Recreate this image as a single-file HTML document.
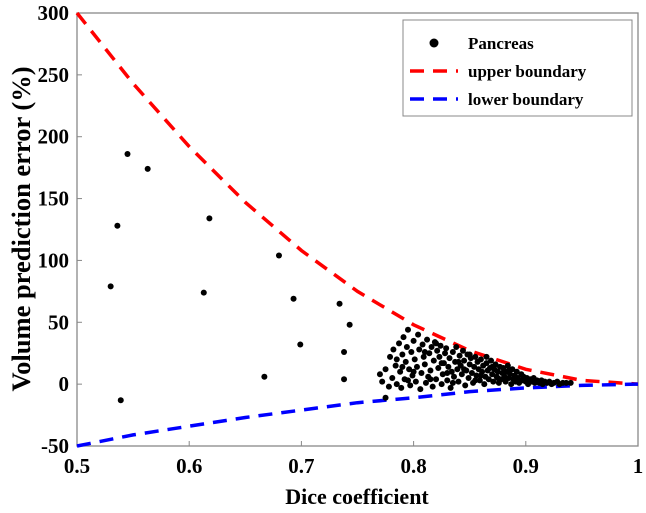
<!DOCTYPE html>
<html><head><meta charset="utf-8"><style>
body{margin:0;background:#fff;}
svg{display:block;font-family:"Liberation Serif",serif;font-weight:bold;}
</style></head><body>
<svg id="chart" width="646" height="513" viewBox="0 0 646 513" xmlns="http://www.w3.org/2000/svg">
<rect x="77" y="13" width="561" height="433" fill="#fff" stroke="#888" stroke-width="1.3"/>
<g id="ticks"></g>
<g id="lines"></g>
<g id="dots"></g>
<text x="357" y="504" text-anchor="middle" font-size="22">Dice coefficient</text>
<text transform="translate(30,229) rotate(-90)" text-anchor="middle" font-size="26.5">Volume prediction error (%)</text>
<g>
<rect x="403" y="20" width="229" height="96" fill="#fff" stroke="#888" stroke-width="1"/>
<g><circle cx="434" cy="43" r="4.5" fill="#000"/><text x="468" y="49" font-size="17">Pancreas</text></g>
<g><line x1="410" y1="71" x2="458" y2="71" stroke="#f00" stroke-width="3.5" stroke-dasharray="14,9"/><text x="468" y="77" font-size="17">upper boundary</text></g>
<g><line x1="410" y1="99" x2="458" y2="99" stroke="#00f" stroke-width="3.5" stroke-dasharray="14,9"/><text x="468" y="105" font-size="17">lower boundary</text></g>
</g>
</svg>
<script>
const xTicks=[0.5,0.6,0.7,0.8,0.9,1];
const xTickLabels=["0.5","0.6","0.7","0.8","0.9","1"];
const yTicks=[-50,0,50,100,150,200,250,300];
const yTickLabels=["-50","0","50","100","150","200","250","300"];
const boundaryDice=[0.5,0.55,0.6,0.65,0.7,0.75,0.8,0.85,0.9,0.95,1.0];
const upperValues=[300,243,192,147,108,75,48,27,12,3,0];
const lowerValues=[-50,-41,-34,-27,-21,-15,-11,-6,-3,-1,0];
const pointDice=[0.545,0.563,0.536,0.530,0.539,0.618,0.613,0.680,0.693,0.699,0.667,0.734,0.743,0.738,0.738,0.775,
0.770,0.772,0.775,0.778,0.779,0.781,0.782,0.784,0.785,0.787,0.788,0.789,0.790,0.791,0.792,0.793,0.794,0.795,0.796,0.797,0.798,0.799,
0.800,0.801,0.802,0.803,0.804,0.805,0.806,0.807,0.808,0.809,0.810,0.811,0.812,0.813,0.814,0.815,0.816,0.817,0.818,0.819,0.820,0.821,0.822,0.823,0.824,0.825,0.826,0.827,0.828,0.829,0.830,0.831,0.832,0.833,0.834,0.835,0.836,0.837,0.838,0.839,
0.840,0.841,0.842,0.843,0.844,0.845,0.846,0.847,0.848,0.849,0.850,0.851,0.852,0.853,0.854,0.855,0.856,0.857,0.858,0.859,0.860,0.861,0.862,0.863,0.864,0.865,0.866,0.867,0.868,0.869,0.870,0.871,0.872,0.873,0.874,0.875,0.876,0.877,0.878,0.879,
0.880,0.881,0.882,0.883,0.884,0.885,0.886,0.887,0.888,0.889,0.890,0.891,0.892,0.893,0.894,0.896,0.897,0.898,0.900,0.901,0.902,0.904,0.905,0.907,0.908,0.910,0.912,0.914,0.915,0.917,0.919,0.921,0.923,0.925,0.928,0.930,0.933,0.936,0.940,
0.785,0.790,0.795,0.800,0.810,0.815,0.820,0.825,0.830,0.835,0.840,0.845,0.850,0.855,0.860,0.865,0.870,0.875,0.880,0.885];
const pointVolume=[186,174,128,79,-13,134,74,104,69,32,6,65,48,26,4,-11,
8,2,12,-2,22,5,28,15,0,33,10,-3,24,38,4,18,30,44,12,-1,26,7,
35,20,2,14,40,28,-4,9,32,22,16,1,36,6,25,11,30,-2,19,34,4,27,13,22,31,0,8,17,25,29,3,14,21,-3,10,26,6,18,30,12,
2,23,15,8,27,19,-1,11,24,5,16,21,9,1,14,22,7,18,12,3,20,10,15,0,6,17,11,4,13,19,8,2,12,16,6,10,1,14,4,9,
13,6,2,10,15,5,8,0,12,4,7,2,10,5,1,8,3,6,2,5,0,4,2,5,1,3,1,3,0,2,1,2,0,1,2,0,1,1,1,
20,14,3,10,26,4,33,17,9,1,18,12,24,3,7,22,14,5,9,11];
const X0=77,X1=638,Y0=446,Y1=13;
const xs=d=>X0+(d-0.5)/0.5*(X1-X0);
const ys=v=>Y0-(v+50)/350*(Y0-Y1);
const NS="http://www.w3.org/2000/svg";
const tg=document.getElementById('ticks');
function mk(tag,at,parent){const e=document.createElementNS(NS,tag);for(const k in at)e.setAttribute(k,at[k]);parent.appendChild(e);return e;}
xTicks.forEach((t,i)=>{
  const l=mk('line',{x1:xs(t),x2:xs(t),y1:Y0,y2:Y0-5,stroke:'#888','stroke-width':1},tg);
  
  
  const tx=mk('text',{x:xs(t),y:Y0+27,'text-anchor':'middle','font-size':21},tg);
  tx.textContent=xTickLabels[i];
  
  
});
yTicks.forEach((t,i)=>{
  const l=mk('line',{x1:X0,x2:X0+5,y1:ys(t),y2:ys(t),stroke:'#888','stroke-width':1},tg);
  
  
  const tx=mk('text',{x:X0-8,y:ys(t)+7,'text-anchor':'end','font-size':21},tg);
  tx.textContent=yTickLabels[i];
  
  
});
const lg=document.getElementById('lines');
function curve(vals,color,name){
  const pts=boundaryDice.map((d,i)=>xs(d).toFixed(1)+','+ys(vals[i]).toFixed(1)).join(' ');
  const p=mk('polyline',{points:pts,fill:'none',stroke:color,'stroke-width':3.5,'stroke-dasharray':'14,9'},lg);
  
  
}
const dg=document.getElementById('dots');
pointDice.forEach((d,i)=>{
  const c=mk('circle',{cx:xs(d),cy:ys(pointVolume[i]),r:3,fill:'#000'},dg);
  
  
});
curve(upperValues,'#f00','upper-boundary-line');
curve(lowerValues,'#00f','lower-boundary-line');
</script>
</body></html>
